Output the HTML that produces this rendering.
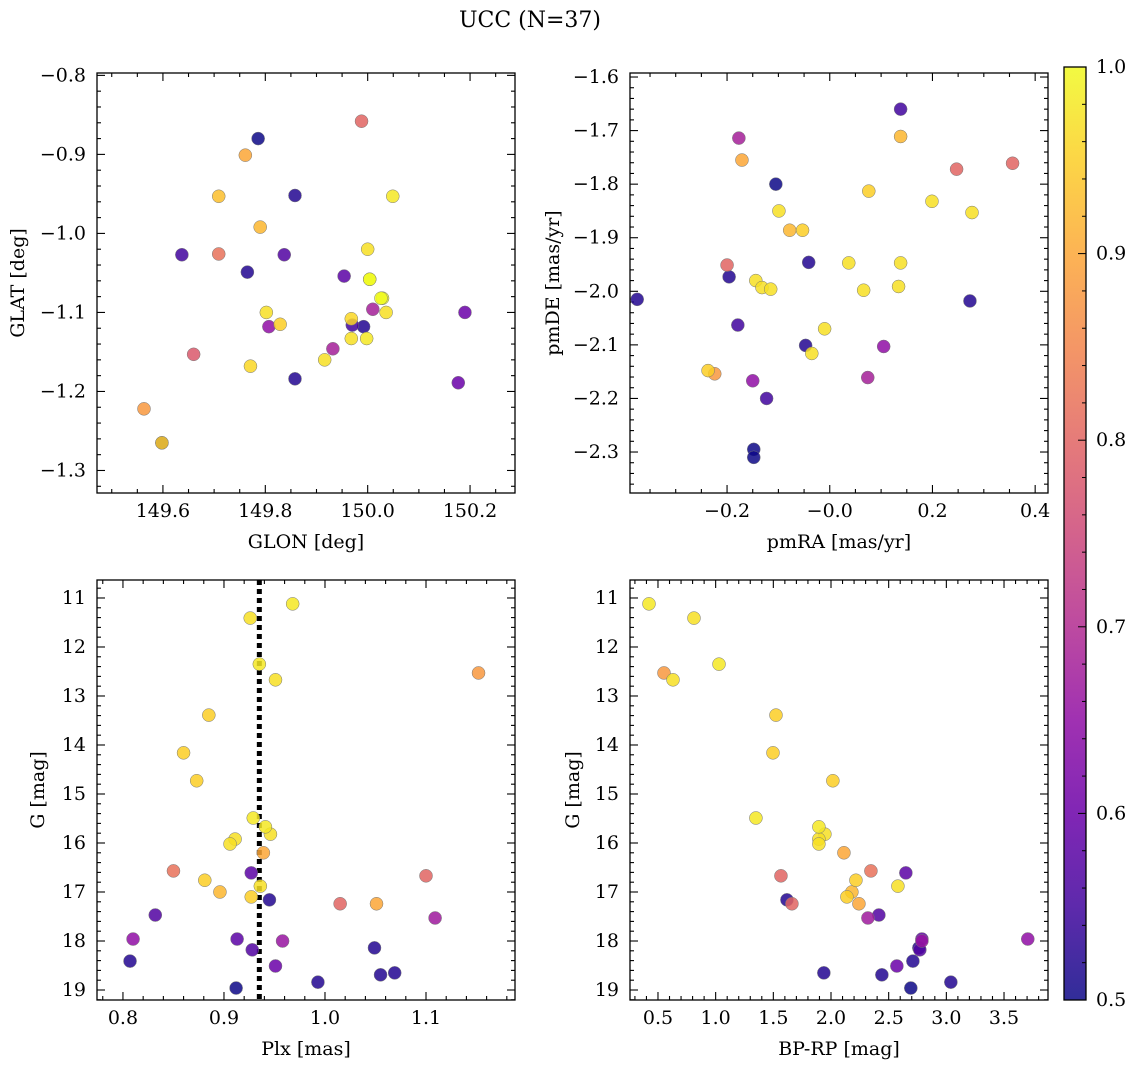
<!DOCTYPE html>
<html><head><meta charset="utf-8"><style>
body{margin:0;background:#fff}
svg{display:block;font-family:"DejaVu Serif","Liberation Serif",serif}
</style></head><body>
<svg id="fig" width="1136" height="1067" xmlns="http://www.w3.org/2000/svg">
<defs><linearGradient id="plasma" x1="0" y1="1" x2="0" y2="0"></linearGradient></defs>
<text x="530" y="27" text-anchor="middle" font-size="22">UCC (N=37)</text>
</svg>
<script>
// Panel 1: GLON / GLAT
const glon=[149.786,149.988,149.761,149.709,149.858,150.049,149.79,149.637,149.709,149.837,150.0,149.765,149.954,150.004,150.029,149.802,150.01,150.036,150.19,149.807,149.829,149.968,149.97,149.992,149.968,149.998,149.66,149.932,149.916,149.771,149.858,150.177,149.563,149.598,149.598,150.004,150.026];
const glat=[-0.880,-0.858,-0.901,-0.953,-0.952,-0.953,-0.992,-1.027,-1.026,-1.027,-1.020,-1.049,-1.054,-1.058,-1.082,-1.100,-1.096,-1.100,-1.100,-1.118,-1.115,-1.108,-1.116,-1.118,-1.133,-1.133,-1.153,-1.146,-1.160,-1.168,-1.184,-1.189,-1.222,-1.265,-1.265,-1.058,-1.082];
const prob1=[0.5,0.8,0.9,0.93,0.52,0.98,0.92,0.55,0.82,0.57,0.97,0.52,0.58,1,1,0.97,0.68,0.97,0.6,0.65,0.95,0.96,0.55,0.52,0.97,0.98,0.78,0.68,0.97,0.96,0.52,0.6,0.88,0.52,0.95,1,1];
// Panel 2: pmRA / pmDE
const pmra=[0.138,-0.177,0.138,-0.171,0.247,0.356,-0.105,0.076,0.199,-0.099,0.277,-0.078,-0.053,-0.041,0.037,0.138,-0.2,-0.196,-0.144,-0.132,-0.115,0.066,0.134,-0.375,0.273,-0.179,-0.010,-0.047,0.105,-0.035,-0.237,-0.224,-0.15,0.074,-0.123,-0.148,-0.148];
const pmde=[-1.66,-1.714,-1.711,-1.755,-1.772,-1.761,-1.80,-1.813,-1.832,-1.850,-1.853,-1.886,-1.886,-1.946,-1.947,-1.947,-1.951,-1.973,-1.98,-1.993,-1.996,-1.998,-1.991,-2.015,-2.018,-2.063,-2.07,-2.101,-2.103,-2.116,-2.148,-2.154,-2.167,-2.161,-2.20,-2.295,-2.31];
const prob2=[0.55,0.68,0.92,0.9,0.8,0.8,0.5,0.95,0.97,0.97,0.97,0.92,0.95,0.52,0.97,0.97,0.8,0.52,0.97,0.97,0.97,0.97,0.97,0.52,0.52,0.55,0.97,0.52,0.65,0.97,0.95,0.88,0.65,0.68,0.55,0.5,0.5];
// Panels 3 & 4: Plx, BP-RP, G
const plx=[0.926,0.968,0.935,0.951,1.152,0.885,0.860,0.873,0.929,0.941,0.946,0.911,0.906,0.939,0.850,0.927,0.881,0.936,0.896,0.927,0.945,1.015,1.051,1.1,1.109,0.832,0.810,0.913,0.958,0.928,1.049,0.807,0.951,1.055,1.069,0.993,0.912];
const bprp=[0.812,0.422,1.029,0.630,0.552,1.523,1.497,2.016,1.349,1.895,1.947,1.895,1.895,2.112,2.346,2.649,2.216,2.58,2.181,2.138,1.618,1.661,2.242,1.566,2.32,2.415,3.706,2.788,2.788,2.77,2.762,2.71,2.571,2.441,1.938,3.039,2.692];
const gmag=[11.41,11.12,12.35,12.67,12.53,13.39,14.16,14.73,15.49,15.67,15.82,15.92,16.02,16.2,16.57,16.61,16.76,16.88,17.0,17.1,17.16,17.24,17.24,16.67,17.53,17.47,17.96,17.96,18.0,18.18,18.14,18.41,18.51,18.69,18.65,18.84,18.96];
const prob34=[0.97,0.98,0.98,0.97,0.88,0.95,0.95,0.95,0.98,0.98,0.97,0.97,0.97,0.9,0.82,0.58,0.95,0.97,0.92,0.95,0.52,0.8,0.9,0.8,0.67,0.57,0.65,0.58,0.66,0.57,0.52,0.52,0.6,0.52,0.52,0.52,0.5];
const plxLine=0.935;
const cbTicks=[0.5,0.6,0.7,0.8,0.9,1.0];

const NS="http://www.w3.org/2000/svg";
const svg=document.getElementById('fig');
const stops=["#0d0887","#41049d","#6a00a8","#8f0da4","#b12a90","#cc4778","#e16462","#f2844b","#fca636","#fcce25","#f0f921"];
function hex(h){return [1,3,5].map(i=>parseInt(h.substr(i,2),16));}
function cmap(p){let t=Math.max(0,Math.min(1,(p-0.5)/0.5))*10;let i=Math.min(9,Math.floor(t));let f=t-i;
 const a=hex(stops[i]),b=hex(stops[i+1]);return 'rgb('+a.map((v,k)=>Math.round(v+(b[k]-v)*f)).join(',')+')';}
function el(tag,attrs,parent){const e=document.createElementNS(NS,tag);for(const k in attrs)e.setAttribute(k,attrs[k]);(parent||svg).appendChild(e);return e;}
function fmt(v,d){let s=v.toFixed(d);return s.replace('-','\u2212');}

function panel(o){
 const g=el('g',{});
 
 
 const X=v=>o.x0+(v-o.xmin)/(o.xmax-o.xmin)*(o.x1-o.x0);
 const Y=o.invert?v=>o.y0+(v-o.ymin)/(o.ymax-o.ymin)*(o.y1-o.y0):v=>o.y1-(v-o.ymin)/(o.ymax-o.ymin)*(o.y1-o.y0);
 const tk=el('g',{stroke:'#000','stroke-width':1.1},g);
 
 
 for(let v=Math.ceil(o.xmin/o.xminor-1e-6)*o.xminor;v<=o.xmax+1e-9;v+=o.xminor){const px=X(v);
  const major=Math.abs(v/o.xmajor-Math.round(v/o.xmajor))<1e-6;const L=major?8:4;
  el('line',{x1:px,x2:px,y1:o.y1,y2:o.y1-L},tk);el('line',{x1:px,x2:px,y1:o.y0,y2:o.y0+L},tk);
  if(major){const t=el('text',{x:px,y:o.y1+24,'text-anchor':'middle','font-size':19,stroke:'none'},g);t.textContent=fmt(v,o.xd);
   }}
 for(let v=Math.ceil(o.ymin/o.yminor-1e-6)*o.yminor;v<=o.ymax+1e-9;v+=o.yminor){const py=Y(v);
  const major=Math.abs(v/o.ymajor-Math.round(v/o.ymajor))<1e-6;const L=major?8:4;
  el('line',{x1:o.x0,x2:o.x0+L,y1:py,y2:py},tk);el('line',{x1:o.x1,x2:o.x1-L,y1:py,y2:py},tk);
  if(major){const t=el('text',{x:o.x0-11,y:py+6,'text-anchor':'end','font-size':19},g);t.textContent=fmt(v,o.yd);
   }}
 const cp='clip'+o.name;const c=el('clipPath',{id:cp},g);el('rect',{x:o.x0,y:o.y0,width:o.x1-o.x0,height:o.y1-o.y0},c);
 const pts=el('g',{'clip-path':'url(#'+cp+')'},g);
 if(o.vline!==undefined){const l=el('line',{x1:X(o.vline),x2:X(o.vline),y1:o.y0,y2:o.y1,stroke:'#000','stroke-width':5,'stroke-dasharray':'5,4'},pts);
  }
 const idx=o.xs.map((_,i)=>i).sort((a,b)=>o.ps[a]-o.ps[b]);
 for(const i of idx){const c2=el('circle',{cx:X(o.xs[i]),cy:Y(o.ys[i]),r:6.5,fill:cmap(o.ps[i]),'fill-opacity':0.85,stroke:'#777','stroke-width':0.5},pts);
  }
 const fr=el('rect',{x:o.x0,y:o.y0,width:o.x1-o.x0,height:o.y1-o.y0,fill:'none',stroke:'#000','stroke-width':1.3},g);
 
 const xl=el('text',{x:(o.x0+o.x1)/2,y:o.y1+55,'text-anchor':'middle','font-size':19},g);xl.textContent=o.xlabel;
 
 const yx=o.ylx,yy=(o.y0+o.y1)/2;const yl=el('text',{x:yx,y:yy,'text-anchor':'middle','font-size':19,transform:'rotate(-90 '+yx+' '+yy+')'},g);yl.textContent=o.ylabel;
 
}
panel({name:'glon-glat-panel',x0:97,x1:515,y0:73,y1:493,xmin:149.4712,xmax:150.2878,ymin:-1.3285,ymax:-0.797,xmajor:0.2,xminor:0.05,ymajor:0.1,yminor:0.02,xd:1,yd:1,xs:glon,ys:glat,ps:prob1,xlabel:'GLON [deg]',ylabel:'GLAT [deg]',ylx:24});
panel({name:'pm-panel',x0:630,x1:1048,y0:73,y1:493,xmin:-0.389,xmax:0.425,ymin:-2.3765,ymax:-1.5925,xmajor:0.2,xminor:0.05,ymajor:0.1,yminor:0.02,xd:1,yd:1,xs:pmra,ys:pmde,ps:prob2,xlabel:'pmRA [mas/yr]',ylabel:'pmDE [mas/yr]',ylx:559});
panel({name:'plx-g-panel',x0:97,x1:515,y0:580,y1:1000,xmin:0.7743,xmax:1.1881,ymin:10.633,ymax:19.204,invert:true,xmajor:0.1,xminor:0.02,ymajor:1,yminor:0.2,xd:1,yd:0,xs:plx,ys:gmag,ps:prob34,vline:plxLine,xlabel:'Plx [mas]',ylabel:'G [mag]',ylx:44});
panel({name:'cmd-panel',x0:630,x1:1048,y0:580,y1:1000,xmin:0.2574,xmax:3.8813,ymin:10.633,ymax:19.204,invert:true,xmajor:0.5,xminor:0.1,ymajor:1,yminor:0.2,xd:1,yd:0,xs:bprp,ys:gmag,ps:prob34,xlabel:'BP-RP [mag]',ylabel:'G [mag]',ylx:579});

const grad=document.getElementById('plasma');
stops.forEach((s,i)=>el('stop',{offset:(i*10)+'%','stop-color':s,'stop-opacity':0.85},grad));
const cb=el('g',{});


const cy0=67,cy1=1000,cx0=1064,cx1=1086;
el('rect',{x:cx0,y:cy0,width:cx1-cx0,height:cy1-cy0,fill:'url(#plasma)',stroke:'#000','stroke-width':1.3},cb);
const CY=v=>cy1-(v-0.5)/0.5*(cy1-cy0);
for(let v=0.5;v<=1.0001;v+=0.02){const py=CY(v);const maj=Math.abs(v*10-Math.round(v*10))<1e-6;
 el('line',{x1:cx1,x2:cx1-(maj?8:4),y1:py,y2:py,stroke:'#000'},cb);}
cbTicks.forEach(v=>{const t=el('text',{x:cx1+10,y:CY(v)+6,'font-size':19},cb);t.textContent=v.toFixed(1);
 });
</script>
</body></html>
